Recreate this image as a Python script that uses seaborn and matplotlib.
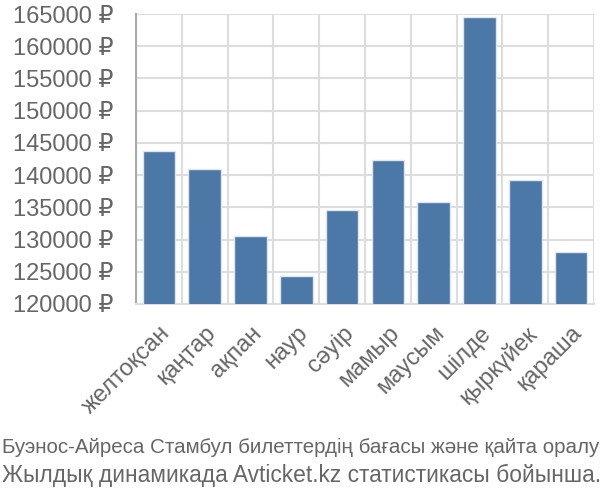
import numpy as np
import pandas as pd
import seaborn as sns
import matplotlib.pyplot as plt
from matplotlib.ticker import FixedLocator, FuncFormatter

months = ["желтоқсан", "қаңтар", "ақпан", "наур", "сәуір", "мамыр",
          "маусым", "шілде", "қыркүйек", "қараша"]
prices = [143700, 140900, 130550, 124300, 134600, 142400,
          135900, 164500, 139300, 128100]
yticks = [120000, 125000, 130000, 135000, 140000, 145000,
          150000, 155000, 160000, 165000]
caption = ["Буэнос-Айреса Стамбул билеттердің бағасы және қайта оралу",
           "Жылдық динамикада Avticket.kz статистикасы бойынша."]

sns.set_style("white")
plt.rcParams['font.family'] = ['Liberation Sans', 'DejaVu Sans']
grey_text = "#666666"
grid_col = "#dddddd"

df = pd.DataFrame({"month": months, "price": prices})

fig = plt.figure(figsize=(6, 5), dpi=100)
ax = fig.add_axes([136 / 600, 1 - 304 / 500, 458 / 600, 290 / 500])

sns.barplot(data=df, x="month", y="price", color="#4c78a8", saturation=1,
            width=0.71, edgecolor="#dfe6ee", linewidth=1, ax=ax, zorder=3)

ax.set_ylim(yticks[0], yticks[-1])
ax.set_xlim(-0.5, len(months) - 0.5)
ax.set_yticks(yticks)
ax.yaxis.set_major_formatter(FuncFormatter(lambda v, p: f"{int(v)} ₽"))
ax.tick_params(axis="y", length=15, width=1.5, color=grid_col, pad=1,
               labelsize=17, labelcolor=grey_text)

# labels at bar centres, ticks and vertical grid at slot edges
ax.set_xticks(range(len(months)))
ax.set_xticklabels(months, rotation=45, ha="right", rotation_mode="anchor")
ax.tick_params(axis="x", which="major", length=0, pad=13,
               labelsize=17, labelcolor=grey_text)
ax.xaxis.set_minor_locator(FixedLocator(np.arange(-0.5, len(months), 1)))
ax.tick_params(axis="x", which="minor", length=14, width=1.5, color=grid_col)

ax.grid(axis="y", color=grid_col, linewidth=1.5, zorder=0)
ax.grid(axis="x", which="minor", color=grid_col, linewidth=1.5, zorder=0)
ax.set_axisbelow(True)
ax.set_xlabel("")
ax.set_ylabel("")

for side in ["top", "right"]:
    ax.spines[side].set_visible(False)
ax.spines["left"].set_color("#aaaaaa")
ax.spines["left"].set_linewidth(1.5)
ax.spines["bottom"].set_color(grid_col)
ax.spines["bottom"].set_linewidth(1.5)

fig.text(2 / 600, 1 - 447 / 500, caption[0], ha="left", va="center",
         fontsize=14.8, color=grey_text)
fig.text(2 / 600, 1 - 475 / 500, caption[1], ha="left", va="center",
         fontsize=16.4, color=grey_text)

fig.savefig("out.png", dpi=100)
